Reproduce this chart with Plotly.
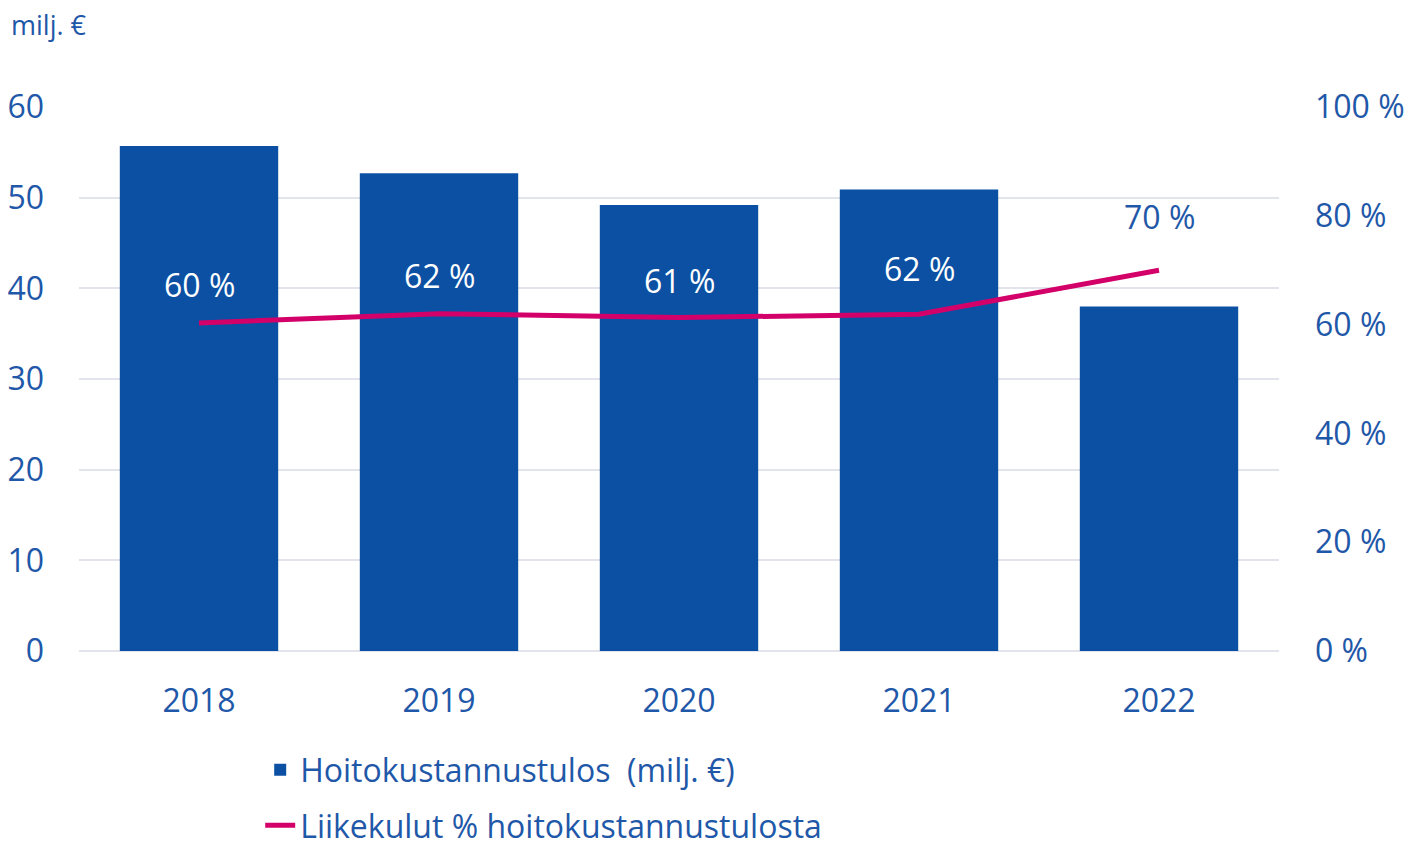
import plotly.graph_objects as go

years = ["2018", "2019", "2020", "2021", "2022"]
result_meur = [55.7, 52.7, 49.2, 50.9, 38.0]
cost_pct = [60.3, 62.0, 61.3, 61.9, 70.0]
pct_labels = ["60 %", "62 %", "61 %", "62 %", "70 %"]
left_ticks = [0, 10, 20, 30, 40, 50, 60]
right_ticks = [0, 20, 40, 60, 80, 100]
right_tick_text = [f"{v} %" for v in right_ticks]

BLUE = "#0B50A3"
TXT = "#1F58A8"
MAG = "#D4006A"
FONT = "Open Sans"
FS = 32

fig = go.Figure()
fig.add_trace(go.Bar(
    x=years, y=result_meur, name="Hoitokustannustulos  (milj. €)",
    marker=dict(color=BLUE, line=dict(width=0)), yaxis="y", legendgroup="a",
))
fig.add_trace(go.Scatter(
    x=years, y=cost_pct, name="Liikekulut % hoitokustannustulosta",
    mode="lines", line=dict(color=MAG, width=5), yaxis="y2", legendgroup="b",
))

shifts = [38, 38, 37, 46, 54]
colors = ["white", "white", "white", "white", TXT]
for i, (v, lab, s, c) in enumerate(zip(cost_pct, pct_labels, shifts, colors)):
    fig.add_annotation(x=i, y=v, xref="x", yref="y2", text=lab, showarrow=False,
                       yshift=s, font=dict(family=FONT, size=FS, color=c))

fig.add_annotation(x=-0.058, y=1.151, xref="paper", yref="paper", xanchor="left",
                   yanchor="middle", text="milj. €", showarrow=False,
                   font=dict(family=FONT, size=27, color=TXT))

fig.update_layout(
    width=1406, height=836,
    margin=dict(l=71, r=135, t=99, b=193, autoexpand=False),
    paper_bgcolor="white", plot_bgcolor="white",
    font=dict(family=FONT, size=FS, color=TXT),
    bargap=0.34,
    showlegend=True,
    legend=dict(x=0.151, y=-0.372, xanchor="left", yanchor="bottom", orientation="v",
                traceorder="grouped", tracegroupgap=11,
                font=dict(family=FONT, size=FS, color=TXT),
                bgcolor="rgba(0,0,0,0)"),
    xaxis=dict(type="category", range=[-0.5, len(years) - 0.5], showgrid=False,
               showline=False, ticks="", ticklabelstandoff=28, automargin=False,
               tickfont=dict(family=FONT, size=FS, color=TXT)),
    yaxis=dict(range=[0, 60], tickvals=left_ticks, showgrid=True, gridcolor="#E1E5EB",
               gridwidth=2, zeroline=True, zerolinecolor="#E1E5EB", zerolinewidth=2,
               showline=False, ticks="", ticklabelstandoff=34, automargin=False,
               tickfont=dict(family=FONT, size=FS, color=TXT)),
    yaxis2=dict(range=[0, 100], tickvals=right_ticks, ticktext=right_tick_text,
                overlaying="y", side="right", showgrid=False, zeroline=False,
                showline=False, ticks="", ticklabelstandoff=35, automargin=False,
                tickfont=dict(family=FONT, size=FS, color=TXT)),
)

fig.write_html("out.html")
